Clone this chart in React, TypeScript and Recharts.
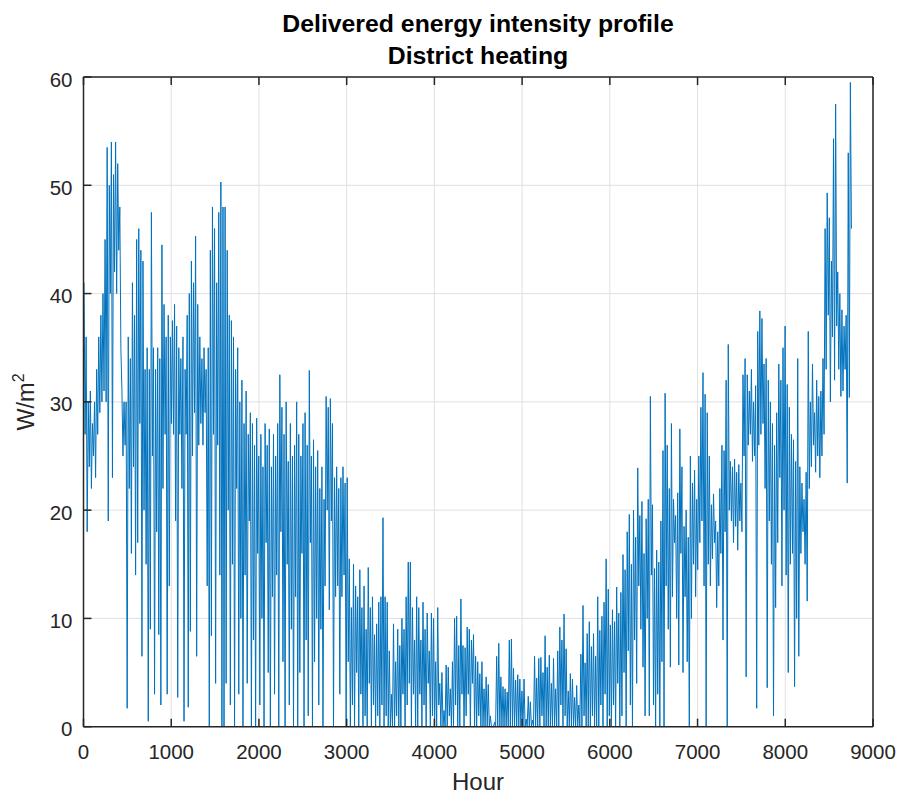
import React from 'react';
import { LineChart, Line, XAxis, YAxis, CartesianGrid, Customized } from 'recharts';

// Daily maximum of the hourly delivered district-heating intensity (W/m2), day 0..364
const peaks: number[] = [
  41, 36, 30, 31, 28, 30, 33, 36, 38, 40,
  45, 53.5, 50, 54, 51, 54, 52, 48, 31, 30,
  30, 36, 34, 41, 38, 45, 46, 44, 43, 33,
  35, 33, 47.5, 35, 33, 35, 34, 44.5, 39, 36,
  38, 36, 37.5, 39, 37, 35, 34, 36, 33, 38,
  40, 43, 41, 45.3, 39, 36, 34, 35, 33, 35,
  44, 48, 46, 41, 47.5, 50.3, 48, 48, 44, 38,
  37.5, 36, 33, 35, 30, 32, 28, 31, 27, 29,
  28, 26, 28.5, 25, 27, 24, 28, 26, 27.5, 24,
  27, 25, 28, 32.5, 29.5, 27, 30, 24.5, 28, 25,
  26, 30, 27, 25, 28, 29, 26, 32.9, 25, 26.5,
  24, 25.5, 22, 24, 21, 30.5, 29.5, 30.3, 28, 23,
  24, 22, 23, 24, 22.5, 23, 15.5, 11, 15, 13,
  12, 14.5, 11, 13, 9, 14.7, 11, 12, 8.5, 9.5,
  11.5, 12, 19.3, 12, 11.5, 7, 3, 9.5, 6, 9,
  7.5, 10, 9, 12, 15.2, 15.2, 11, 8, 12, 11,
  8, 11.5, 9, 10.5, 7, 10.5, 10, 6, 11, 4,
  5, 1.5, 5.7, 5.5, 3.5, 6, 10, 10.2, 7.5, 11.8,
  7.5, 7.3, 9.2, 9, 8, 8.5, 6.5, 6, 4.9, 6,
  3.5, 4.6, 3.9, 1, 0, 0.4, 6.5, 7.7, 4.6, 3.7,
  3.5, 3.2, 8, 8.1, 5.4, 4.3, 4.8, 4.4, 3.3, 4.4,
  0.7, 2.8, 2.3, 0.6, 6.5, 4.5, 6.3, 6.4, 5, 8.4,
  5.5, 6.6, 4, 6.3, 3.5, 7, 9.2, 8, 10.4, 7.2,
  3.3, 4.9, 4.4, 2.7, 3.8, 2, 6.7, 11.2, 5.9, 8.6,
  9.7, 7.4, 8.6, 6.5, 12, 8.9, 10.2, 11.5, 15.5, 12.7,
  9.4, 10.8, 9.7, 12.9, 10.5, 12.4, 15.9, 14.5, 18, 19.6,
  15, 20, 17.5, 23.9, 19.5, 20.8, 16, 19.2, 21, 30.5,
  20.5, 14.6, 16.3, 15.2, 19, 25.5, 30.8, 26, 22, 28,
  21, 19.5, 21.6, 27.5, 24, 18.5, 20, 17.5, 25, 22.5,
  23.7, 21, 25, 29.5, 32.7, 30.7, 29, 25, 20.5, 21.5,
  19, 18, 22, 26, 25.5, 32, 35.3, 24.5, 24, 24.7,
  23.5, 24.2, 22.5, 32.5, 34, 32.5, 31, 33, 30, 31.5,
  36.5, 38.4, 37.7, 33.5, 34, 32, 30, 28, 26, 29,
  33.5, 32, 35, 37, 31.6, 29.5, 27, 26.5, 24.5, 34,
  24, 22.5, 21, 23.5, 36.5, 30, 33.5, 29, 32, 30.5,
  31, 34, 46, 49.3, 47, 43, 54.3, 57.5, 42, 40,
  38.5, 37, 38, 53, 59.5,
];

// Daily minimum of the hourly delivered district-heating intensity (W/m2), day 0..364
const troughs: number[] = [
  27, 18, 24, 22, 25, 23, 27, 29, 30, 31,
  30, 19, 40, 23, 42, 40, 44, 35, 25, 26,
  1.7, 22, 16, 24, 14, 17, 28, 6.5, 20, 15,
  0.5, 9, 25, 3, 18, 8.5, 2, 22, 27, 3,
  13, 28, 27, 19, 2.7, 27, 22, 0.5, 27, 1.8,
  8.8, 25, 29, 6.5, 26, 28, 26, 29, 13, 0,
  8.4, 27, 4, 26, 14, 0, 0, 4, 20, 2,
  15, 0, 22, 3, 10, 0, 14, 4, 19, 0,
  8, 0, 16, 2, 10, 0, 17, 5, 0, 12,
  3, 14, 0, 18, 6, 0, 15, 2, 9, 0,
  12, 0, 5, 16, 0, 8, 1, 17, 0, 6,
  10, 2, 9, 0, 13, 20, 10.8, 19, 0, 12,
  13, 3, 12, 14, 0, 6, 0, 2, 0, 5,
  0, 3, 0, 1, 0, 4, 0, 2, 0, 1,
  0, 2, 0, 1, 0, 0, 0, 0, 1, 0,
  0, 3, 0, 2, 4, 0, 3, 0, 0, 3,
  0, 2, 0, 4, 0, 1, 0, 0, 2, 0,
  0, 0, 0, 1, 0, 0, 2, 0, 0, 3,
  0, 1, 3, 0, 4, 0, 0, 1, 0, 0,
  0, 0, 0, 0, 0, 0, 0, 0, 0, 0,
  0, 0, 0, 0, 0, 0, 0, 0, 0, 0,
  0, 0, 0, 0, 0, 0, 0, 1, 0, 0,
  0, 0, 0, 0, 0, 0, 2, 0, 1, 0,
  0, 0, 0, 0, 0, 0, 0, 1, 0, 0,
  0, 1, 0, 0, 0, 2, 0, 3, 0, 1,
  0, 2, 0, 4, 0, 1, 5, 0, 7, 2,
  0, 8, 4, 13, 9, 5.5, 1, 10, 1, 14,
  2, 0, 3, 0, 6, 0, 13, 9, 5.5, 12,
  17, 10, 5.7, 16, 5, 12, 6, 0, 10, 15,
  12, 14.5, 17, 19, 13, 0, 15, 13, 15.5, 17,
  11, 13, 16, 8, 18, 0, 20, 19, 17, 18.5,
  16.3, 19, 18, 25, 4.6, 26, 27, 24.5, 25, 1.7,
  26, 27, 28, 22, 3.6, 19, 15, 1, 11, 17,
  23, 13, 20, 14, 5, 15, 16, 3.7, 10, 6.5,
  16, 18, 15, 11.6, 22, 24, 26, 23.5, 25, 23,
  25, 27, 33, 38, 30, 36, 32, 37, 33, 30.5,
  31, 33, 22.5, 30.4, 46,
];

const hourTicks = [0, 1000, 2000, 3000, 4000, 5000, 6000, 7000, 8000, 9000];
const valueTicks = [0, 10, 20, 30, 40, 50, 60];
const titleLines = ['Delivered energy intensity profile', 'District heating'];
const xLabel = 'Hour';
const yLabelUnit = 'W/m';
const yLabelPower = '2';

// Each day contributes its maximum (early morning) and its minimum (afternoon)
const series = peaks.flatMap((peak, day) => [
  { hour: day * 24 + 6, value: peak },
  { hour: day * 24 + 18, value: troughs[day] },
]);

const W = 899;
const H = 794;
const FONT = '"Liberation Sans", Arial, Helvetica, sans-serif';
const INK = '#262626';
const TICK = 8;
const AXIS_STROKE = 1.5;

function BottomTick(props: any) {
  const { x, y, payload } = props;
  return (
    <g>
      <line x1={x} y1={y} x2={x} y2={y - TICK} stroke={INK} strokeWidth={AXIS_STROKE} />
      <text x={x} y={y + 31.8} textAnchor="middle" fontFamily={FONT} fontSize={20.5} fill={INK}>
        {payload.value}
      </text>
    </g>
  );
}

function TopTick(props: any) {
  const { x, y } = props;
  return <line x1={x} y1={y} x2={x} y2={y + TICK} stroke={INK} strokeWidth={AXIS_STROKE} />;
}

function LeftTick(props: any) {
  const { x, y, payload } = props;
  return (
    <g>
      <line x1={x} y1={y} x2={x + TICK} y2={y} stroke={INK} strokeWidth={AXIS_STROKE} />
      <text x={x - 11} y={y + 9.5} textAnchor="end" fontFamily={FONT} fontSize={20.5} fill={INK}>
        {payload.value}
      </text>
    </g>
  );
}

function RightTick(props: any) {
  const { x, y } = props;
  return <line x1={x} y1={y} x2={x - TICK} y2={y} stroke={INK} strokeWidth={AXIS_STROKE} />;
}

function Annotations() {
  return (
    <g>
      <text x={478} y={32} textAnchor="middle" fontFamily={FONT} fontSize={24.8} fontWeight="bold" fill="#000">
        {titleLines[0]}
      </text>
      <text x={478} y={64} textAnchor="middle" fontFamily={FONT} fontSize={24.8} fontWeight="bold" fill="#000">
        {titleLines[1]}
      </text>
      <text x={478} y={790} textAnchor="middle" fontFamily={FONT} fontSize={24} fill={INK}>
        {xLabel}
      </text>
      <text
        x={402}
        y={34}
        transform="rotate(-90 0 0) translate(-804 0)"
        textAnchor="middle"
        fontFamily={FONT}
        fontSize={23.5}
        fill={INK}
      >
        {yLabelUnit}
        <tspan dy={-10} fontSize={16}>{yLabelPower}</tspan>
      </text>
    </g>
  );
}

export default function App() {
  return (
    <div style={{ position: 'absolute', left: 0, top: 0, width: W, height: H, background: '#fff' }}>
      <LineChart width={W} height={H} data={series} margin={{ top: 57, right: 16, bottom: 37.3, left: 43.5 }}>
        <CartesianGrid stroke="#e0e0e0" strokeWidth={1} />
        <XAxis
          dataKey="hour"
          type="number"
          domain={[0, 9000]}
          ticks={hourTicks}
          interval={0}
          height={30}
          tickSize={0}
          tickMargin={0}
          tickLine={false}
          axisLine={{ stroke: INK, strokeWidth: AXIS_STROKE }}
          tick={<BottomTick />}
        />
        <XAxis
          xAxisId="top"
          orientation="top"
          dataKey="hour"
          type="number"
          domain={[0, 9000]}
          ticks={hourTicks}
          interval={0}
          height={20}
          tickSize={0}
          tickMargin={0}
          tickLine={false}
          axisLine={{ stroke: INK, strokeWidth: AXIS_STROKE }}
          tick={<TopTick />}
        />
        <YAxis
          type="number"
          domain={[0, 60]}
          ticks={valueTicks}
          interval={0}
          width={40}
          tickSize={0}
          tickMargin={0}
          tickLine={false}
          axisLine={{ stroke: INK, strokeWidth: AXIS_STROKE }}
          tick={<LeftTick />}
        />
        <YAxis
          yAxisId="right"
          orientation="right"
          type="number"
          domain={[0, 60]}
          ticks={valueTicks}
          interval={0}
          width={10}
          tickSize={0}
          tickMargin={0}
          tickLine={false}
          axisLine={{ stroke: INK, strokeWidth: AXIS_STROKE }}
          tick={<RightTick />}
        />
        <Line
          type="linear"
          dataKey="value"
          stroke="#0072BD"
          strokeWidth={1}
          dot={false}
          activeDot={false}
          isAnimationActive={false}
        />
        <Customized component={<Annotations />} />
      </LineChart>
    </div>
  );
}
